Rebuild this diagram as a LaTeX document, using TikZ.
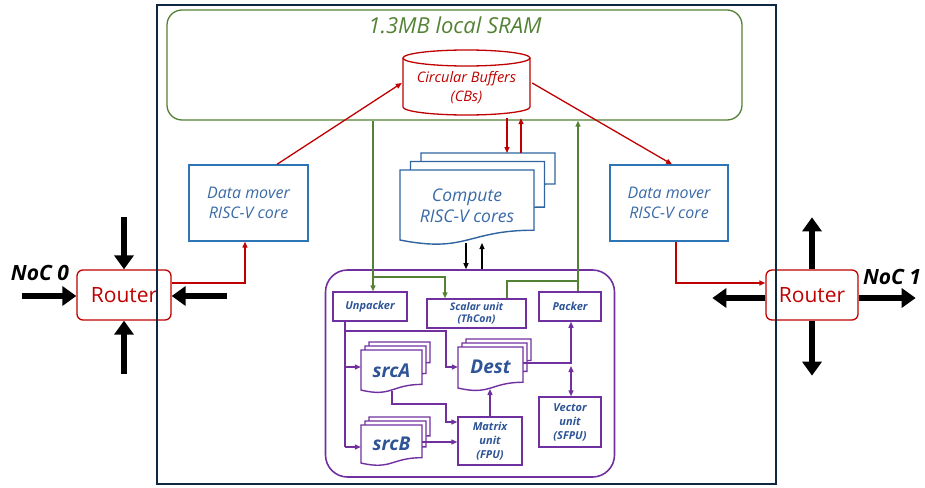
\documentclass[tikz,border=0pt]{standalone}
\usepackage{fontspec}
\setmainfont{Open Sans}
\usetikzlibrary{arrows.meta,calc}
\definecolor{navy}{HTML}{0E2841}
\definecolor{sgreen}{HTML}{548235}
\definecolor{cred}{HTML}{C00000}
\definecolor{dmblue}{HTML}{2E75B6}
\definecolor{cpblue}{HTML}{2F64A0}
\definecolor{tblue}{HTML}{3A6AA8}
\definecolor{iblue}{HTML}{2F5597}
\definecolor{cpurple}{HTML}{7030A0}
% document shape: x1 y1 x2 y2(left bottom) options
\newcommand\docsh[5]{%
  \filldraw[#5] (#1,#2) -- (#3,#2) -- (#3,{#2+0.86*(#4-#2)})
    .. controls ({(#1+#3)/2},{#2+0.86*(#4-#2)}) and ({(#1+#3)/2},{#2+1.19*(#4-#2)}) .. (#1,#4) -- cycle;}
% stacked documents: x1 y1 x2 y2 dx dy options
\newcommand\stackdoc[7]{%
  \docsh{#1+2*#5}{#2-2*#6}{#3+2*#5}{#4-2*#6}{#7}
  \docsh{#1+#5}{#2-#6}{#3+#5}{#4-#6}{#7}
  \docsh{#1}{#2}{#3}{#4}{#7}}
\tikzset{
  redline/.style={cred, line width=1.3pt},
  redarr/.style={redline, -{Triangle[length=6pt,width=5pt]}},
  grnline/.style={sgreen, line width=1.3pt},
  grnarr/.style={grnline, -{Triangle[length=6pt,width=5pt]}},
  purline/.style={cpurple, line width=1.3pt},
  purarr/.style={purline, -{Triangle[length=6pt,width=5pt]}},
  blkarr/.style={black, line width=1.2pt, -{Triangle[length=6pt,width=5pt]}},
  bigarr/.style={black, line width=5.5pt, -{Triangle[length=14pt,width=19pt]}},
  router/.style={draw=cred, line width=1.3pt, rounded corners=6pt, text=cred,
    font=\fontsize{21}{24}\selectfont, inner sep=0pt},
  dmbox/.style={draw=dmblue, line width=1.4pt, text=tblue, align=center,
    font=\fontsize{16}{20}\selectfont\itshape, inner sep=0pt},
  pbox/.style={draw=cpurple, line width=1.5pt, fill=white, text=iblue, align=center,
    font=\fontsize{11}{13}\selectfont\bfseries\itshape, inner sep=0pt},
  doctext/.style={text=iblue, font=\fontsize{19}{20}\selectfont\bfseries\itshape, inner sep=0pt},
  noclabel/.style={font=\fontsize{21}{22}\selectfont\bfseries\itshape, inner sep=0pt},
}
\begin{document}
\begin{tikzpicture}[x=1pt,y=-1pt]
\useasboundingbox (0,0) rectangle (925,487);

% SRAM
\node (sram) [draw=sgreen, line width=1.3pt, rounded corners=15pt, minimum width=575pt, minimum height=110pt, inner sep=0pt] at (454.5,65) {};
\node (sramt) at (455,25) [text=sgreen, font=\fontsize{22}{24}\selectfont\itshape, inner sep=0pt] {1.3MB local SRAM};

% Circular buffers cylinder
\filldraw[cred, fill=white, line width=1.3pt] (403,58) -- (403,107) arc[start angle=180, end angle=0, x radius=63.5, y radius=8] -- (530,58);
\draw[cred, line width=1.3pt] (466.5,58) ellipse [x radius=63.5, y radius=8];
\node (cb) at (466.5,88) [minimum width=127pt, minimum height=60pt, inner sep=0pt, text=cred, align=center, font=\fontsize{14.5}{19}\selectfont\itshape] {Circular Buffers\\(CBs)};

% Data movers
\node (dm1) [dmbox, minimum width=119pt, minimum height=76pt] at (248.5,203) {Data mover\\RISC-V core};
\node (dm2) [dmbox, minimum width=118pt, minimum height=76pt] at (669,203) {Data mover\\RISC-V core};

% Compute cores
\stackdoc{400}{170}{534}{240}{10.5}{8.5}{cpblue, fill=white, line width=1.4pt}
\node (cmp) at (467,205.5) [minimum width=134pt, minimum height=70pt, inner sep=0pt, text=tblue, align=center, font=\fontsize{17.5}{21}\selectfont\itshape] {Compute\\RISC-V cores};
\coordinate (cmptop) at (514,153);

% Routers
\node (r0) [router, minimum width=94pt, minimum height=50pt] at (124,295) {Router};
\node (r1) [router, minimum width=92pt, minimum height=50pt] at (812,295) {Router};
\node (noc0) [noclabel] at (40,273) {NoC 0};
\node (noc1) [noclabel] at (892,277) {NoC 1};

% Outer tile
\node (tile) [draw=navy, line width=1.6pt, minimum width=619pt, minimum height=479pt, inner sep=0pt] at (466.5,244.5) {};

% Purple compute engine
\node (eng) [draw=cpurple, line width=1.6pt, rounded corners=22pt, minimum width=289pt, minimum height=207pt, inner sep=0pt] at (470,373.5) {};
\node (unp) [pbox, minimum width=74pt, minimum height=29pt] at (370,306.5) {Unpacker};
\node (scl) [pbox, minimum width=99pt, minimum height=29pt, font=\fontsize{10.5}{12.5}\selectfont\bfseries\itshape] at (476.5,313.5) {Scalar unit\\(ThCon)};
\node (pck) [pbox, minimum width=62pt, minimum height=29pt] at (570,306.5) {Packer};
\node (mat) [pbox, minimum width=64pt, minimum height=48pt, font=\fontsize{11}{14}\selectfont\bfseries\itshape] at (490,441) {Matrix\\unit\\(FPU)};
\node (vec) [pbox, minimum width=62pt, minimum height=50pt, font=\fontsize{11}{14}\selectfont\bfseries\itshape] at (570,422) {Vector\\unit\\(SFPU)};

\stackdoc{361}{350}{422}{390}{4}{4}{cpurple, fill=white, line width=1.4pt}
\node (srcA) [doctext, minimum width=61pt, minimum height=40pt] at (391.5,371) {srcA};
\stackdoc{361}{425}{422}{463}{4}{4}{cpurple, fill=white, line width=1.4pt}
\node (srcB) [doctext, minimum width=61pt, minimum height=38pt] at (391.5,444) {srcB};
\stackdoc{458}{347}{523}{388}{4}{4}{cpurple, fill=white, line width=1.4pt}
\node (dest) [doctext, minimum width=65pt, minimum height=41pt] at (490.5,367) {Dest};

% Red connectors
\draw[redarr] ($(dm1.north)+(28.5,0)$) -- ($(cb.west)+(-1,-5)$);
\draw[redarr] ($(cb.east)+(2,-5)$) -- ($(dm2.north)+(3,0)$);
\draw[redarr] (cb.south -| 507,0) -- (cmptop -| 507,0);
\draw[redarr] (cmptop -| 521,0) -- (cb.south -| 521,0);
\draw[redarr] (r0.east |- 0,283) -| ($(dm1.south)+(-3.5,0)$);
\draw[redarr] ($(dm2.south)+(7,0)$) |- (r1.west |- 0,283);

% Black connectors
\draw[blkarr] (466,243) -- (eng.north -| 466,0);
\draw[blkarr] (eng.north -| 482,0) -- (482,243);

% Big NoC arrows
\draw[bigarr] ($(r0.north)+(0,-52)$) -- (r0.north);
\draw[bigarr] ($(r0.south)+(0,53)$) -- (r0.south);
\draw[bigarr] ($(r0.west)+(-54,1)$) -- ($(r0.west)+(0,1)$);
\draw[bigarr] ($(r0.east)+(55,1)$) -- ($(r0.east)+(0,1)$);
\draw[bigarr] (r1.north) -- ($(r1.north)+(0,-52)$);
\draw[bigarr] (r1.south) -- ($(r1.south)+(0,55)$);
\draw[bigarr] ($(r1.west)+(0,3)$) -- ($(r1.west)+(-53,3)$);
\draw[bigarr] ($(r1.east)+(0,3)$) -- ($(r1.east)+(57,3)$);

% Green connectors
\draw[grnarr] (sram.south -| 373,0) -- (unp.north -| 373,0);
\draw[grnarr] (373,277) -| (scl.north -| 445,0);
\draw[grnarr] (pck.north -| 578,0) -- (sram.south -| 578,0);
\draw[grnline] (scl.north -| 507,0) |- (578,281);

% Purple connectors
\draw[purline] (unp.south -| 345,0) -- (345,447);
\draw[purarr] (345,447) -- (srcB.west |- 0,447);
\draw[purarr] (345,367) -- (srcA.west |- 0,367);
\draw[purarr] (345,331) -| (446,367) -- (dest.west |- 0,367);
\draw[purarr] (392,391) |- (446,404) |- (mat.west |- 0,422);
\draw[purarr] (srcB.east |- 0,442) -- (mat.west |- 0,442);
\draw[purarr] (mat.north) -- (490,389);
\draw[purarr] (dest.east |- 0,363) -| (pck.south -| 571,0);
\draw[purline, {Triangle[length=6pt,width=5pt]}-{Triangle[length=6pt,width=5pt]}] (571,366) -- (vec.north -| 571,0);
\end{tikzpicture}
\end{document}
